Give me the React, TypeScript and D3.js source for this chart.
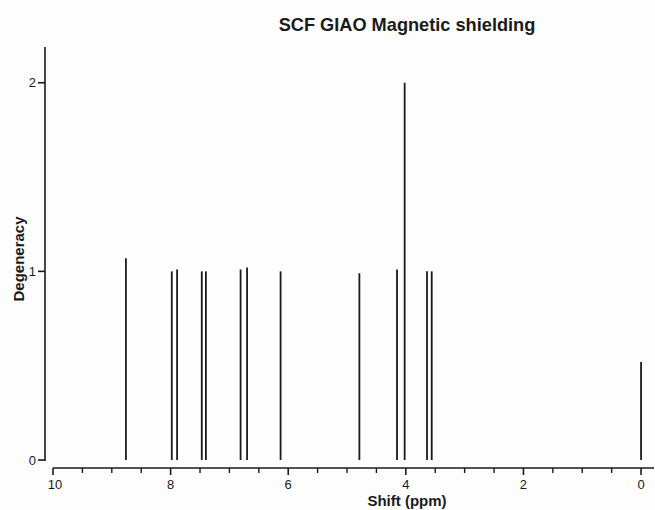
import React from "react";
import * as d3 from "d3";

// Computed NMR shifts (ppm) and their degeneracies
const shifts: number[] = [8.76, 7.98, 7.89, 7.47, 7.4, 6.81, 6.7, 6.13, 4.79, 4.15, 4.02, 3.64, 3.56, 0.0];
const degeneracy: number[] = [1.07, 1.0, 1.01, 1.0, 1.0, 1.01, 1.02, 1.0, 0.99, 1.01, 2.0, 1.0, 1.0, 0.52];

const xMajorTicks: number[] = [10, 8, 6, 4, 2, 0];
const xMinorTicks: number[] = [9.5, 9, 8.5, 7.5, 7, 6.5, 5.5, 5, 4.5, 3.5, 3, 2.5, 1.5, 1, 0.5];
const yTicks: number[] = [0, 1, 2];

const W = 655;
const H = 510;
const FONT = "'Liberation Sans', Arial, Helvetica, sans-serif";
const INK = "#1a1a1a";

export default function App() {
  const x = d3.scaleLinear().domain([10, -0.22]).range([53, 654]);
  const y = d3.scaleLinear().domain([0, 2.2]).range([460, 45]);

  const yAxisX = 45;
  const xAxisY = 468;

  return (
    <svg
      width={W}
      height={H}
      viewBox={`0 0 ${W} ${H}`}
      style={{ position: "absolute", left: 0, top: 0, background: "#fdfdfd" }}
    >
      <rect x={0} y={0} width={W} height={H} fill="#fdfdfd" />

      {/* title */}
      <text
        x={407}
        y={31}
        textAnchor="middle"
        fontFamily={FONT}
        fontWeight="bold"
        fontSize={18.2}
        fill={INK}
      >
        SCF GIAO Magnetic shielding
      </text>

      {/* y axis */}
      <line x1={yAxisX} x2={yAxisX} y1={y(2.2) + 2} y2={y(0) + 1} stroke={INK} strokeWidth={1.6} />
      {yTicks.map((t) => (
        <g key={`yt${t}`}>
          <line x1={yAxisX - 7} x2={yAxisX} y1={y(t)} y2={y(t)} stroke={INK} strokeWidth={1.6} />
          <text
            x={yAxisX - 9}
            y={y(t) + 4.5}
            textAnchor="end"
            fontFamily={FONT}
            fontSize={13}
            fill={INK}
          >
            {t}
          </text>
        </g>
      ))}
      <text
        transform={`translate(24, 259) rotate(-90)`}
        textAnchor="middle"
        fontFamily={FONT}
        fontWeight="bold"
        fontSize={15}
        fill={INK}
      >
        Degeneracy
      </text>

      {/* x axis */}
      <line x1={x(10)} x2={x(-0.22)} y1={xAxisY} y2={xAxisY} stroke={INK} strokeWidth={1.6} />
      {xMinorTicks.map((t) => (
        <line
          key={`xm${t}`}
          x1={x(t)}
          x2={x(t)}
          y1={xAxisY}
          y2={xAxisY + 5}
          stroke={INK}
          strokeWidth={1.4}
        />
      ))}
      {xMajorTicks.map((t) => (
        <g key={`xt${t}`}>
          <line x1={x(t)} x2={x(t)} y1={xAxisY} y2={xAxisY + 7} stroke={INK} strokeWidth={1.6} />
          <text
            x={x(t) + (t === 10 ? 2 : 0)}
            y={489}
            textAnchor="middle"
            fontFamily={FONT}
            fontSize={13}
            fill={INK}
          >
            {t}
          </text>
        </g>
      ))}
      <text
        x={407}
        y={506}
        textAnchor="middle"
        fontFamily={FONT}
        fontWeight="bold"
        fontSize={15}
        fill={INK}
      >
        Shift (ppm)
      </text>

      {/* stick spectrum */}
      {shifts.map((s, i) => (
        <line
          key={`p${i}`}
          x1={x(s)}
          x2={x(s)}
          y1={y(0)}
          y2={y(degeneracy[i])}
          stroke={INK}
          strokeWidth={1.8}
        />
      ))}
    </svg>
  );
}
